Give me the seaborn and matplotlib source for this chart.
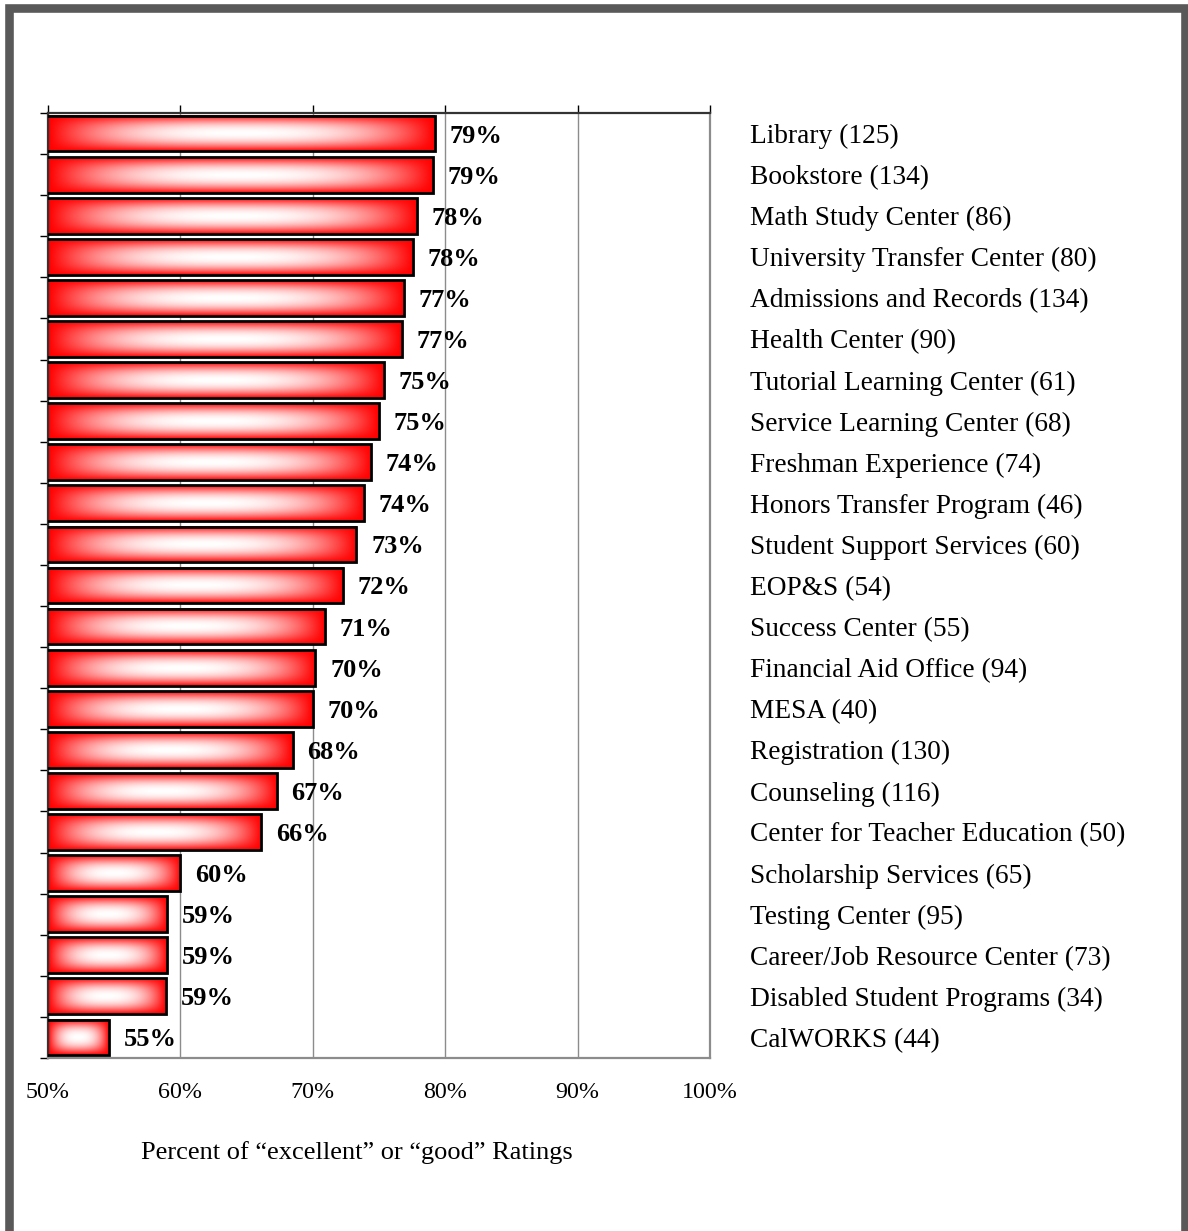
import numpy as np
import pandas as pd
import matplotlib
matplotlib.use("Agg")
import matplotlib.pyplot as plt
from matplotlib.patches import Rectangle
import matplotlib.transforms as mtransforms
import seaborn as sns

# ---- data ----
services = ["Library (125)", "Bookstore (134)", "Math Study Center (86)",
            "University Transfer Center (80)", "Admissions and Records (134)",
            "Health Center (90)", "Tutorial Learning Center (61)",
            "Service Learning Center (68)", "Freshman Experience (74)",
            "Honors Transfer Program (46)", "Student Support Services (60)",
            "EOP&S (54)", "Success Center (55)", "Financial Aid Office (94)",
            "MESA (40)", "Registration (130)", "Counseling (116)",
            "Center for Teacher Education (50)", "Scholarship Services (65)",
            "Testing Center (95)", "Career/Job Resource Center (73)",
            "Disabled Student Programs (34)", "CalWORKS (44)"]
pct = [79.2, 79.1, 77.9, 77.6, 76.9, 76.7, 75.4, 75.0, 74.4, 73.9, 73.3,
       72.3, 70.9, 70.2, 70.0, 68.5, 67.3, 66.1, 60.0, 59.0, 59.0, 58.9, 54.6]
pct_labels = ["79%", "79%", "78%", "78%", "77%", "77%", "75%", "75%", "74%",
              "74%", "73%", "72%", "71%", "70%", "70%", "68%", "67%", "66%",
              "60%", "59%", "59%", "59%", "55%"]
x_ticks = [50, 60, 70, 80, 90, 100]
x_label = "Percent of \u201cexcellent\u201d or \u201cgood\u201d Ratings"

sns.set_style("white")
plt.rcParams["font.family"] = ["Liberation Serif", "DejaVu Serif"]
plt.rcParams["text.color"] = "black"
plt.rcParams["axes.labelcolor"] = "black"
plt.rcParams["xtick.color"] = "black"
plt.rcParams["ytick.color"] = "black"

df = pd.DataFrame({"service": services, "pct": pct})

fig = plt.figure(figsize=(11.88, 12.31), dpi=100)
ax = fig.add_axes([48 / 1188, 1 - 1058 / 1231, 662 / 1188, 945 / 1231])

sns.barplot(data=df, x="pct", y="service", orient="h", ax=ax,
            width=0.87, facecolor="none", edgecolor="black", linewidth=2.0,
            zorder=3)

# gradient fill: white centre fading to red at every edge
uu, vv = np.meshgrid(np.linspace(-1, 1, 200), np.linspace(-1, 1, 40))
t = 1 - (1 - np.abs(uu) ** 2.5) * (1 - np.abs(vv) ** 2.0)
grad = np.ones((40, 200, 3))
grad[..., 1] = 1 - t
grad[..., 2] = 1 - t

for patch in ax.patches:
    x0 = max(patch.get_x(), 50)
    x1 = patch.get_x() + patch.get_width()
    y0 = patch.get_y()
    y1 = y0 + patch.get_height()
    ax.imshow(grad, extent=[x0, x1, y1, y0], aspect="auto",
              interpolation="bilinear", zorder=2)
ax.set_xlim(50, 100)
ax.set_ylim(len(services) - 0.5, -0.5)

# value labels
for i, (v, lab) in enumerate(zip(pct, pct_labels)):
    ax.text(v + 1.1, i, lab, va="center_baseline", ha="left", fontsize=19,
            fontweight="bold", zorder=5)

# category labels on the right
trans = mtransforms.blended_transform_factory(ax.transAxes, ax.transData)
for i, s in enumerate(services):
    ax.text(1.06, i, s, transform=trans, va="center_baseline", ha="left",
            fontsize=19.7)

# grid and axes styling
ax.set_xticks(x_ticks)
ax.set_xticklabels([f"{t}%" for t in x_ticks], fontsize=17.3)
ax.xaxis.grid(True, color="#8c8c8c", linewidth=1.0)
ax.set_axisbelow(True)
ax.tick_params(axis="x", which="major", top=True, bottom=False,
               labeltop=False, labelbottom=True, direction="out",
               length=6, width=1, color="black", pad=11)
ax.set_yticks(np.arange(-0.5, len(services)))
ax.set_yticklabels([])
ax.tick_params(axis="y", left=True, direction="out", length=6, width=1,
               color="black")
ax.set_ylabel("")
ax.set_xlabel(x_label, fontsize=19)
ax.xaxis.set_label_coords(0.467, -0.088)

for side in ["top", "left"]:
    ax.spines[side].set_color("#333333")
    ax.spines[side].set_linewidth(1.6)
for side in ["bottom", "right"]:
    ax.spines[side].set_color("#8c8c8c")
    ax.spines[side].set_linewidth(1.6)
    ax.spines[side].set_visible(True)

# outer page frame
fig.patches.append(Rectangle((8.5 / 1188, -0.05), (1185 - 8.5) / 1188,
                             1.05 - 8.5 / 1231, transform=fig.transFigure,
                             fill=False, edgecolor="#595959", linewidth=6.2))

fig.savefig("out.png", dpi=100)
